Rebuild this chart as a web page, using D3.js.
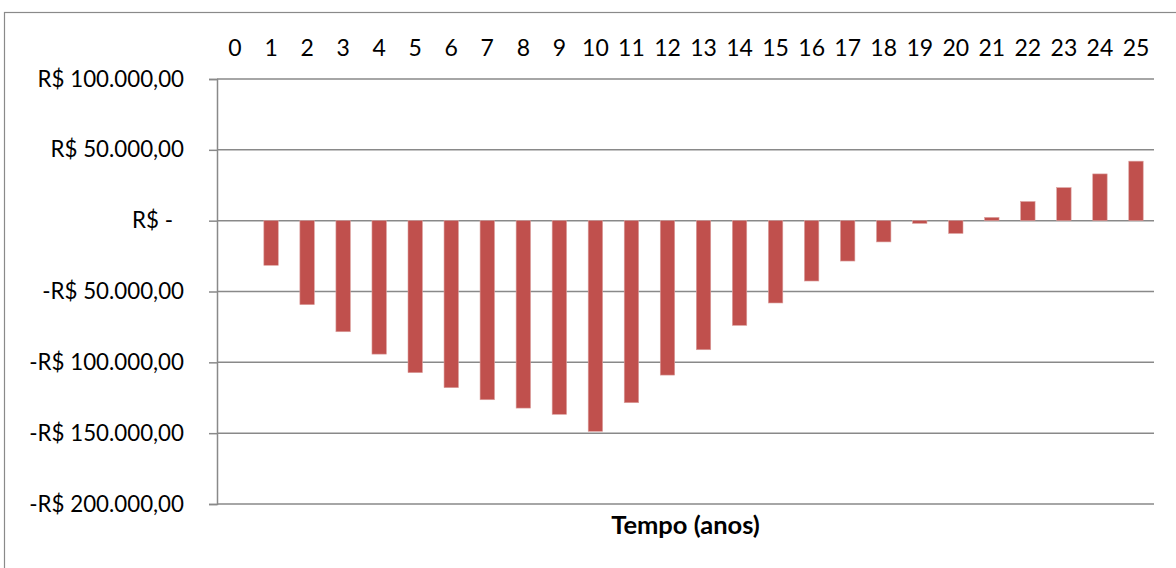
<!DOCTYPE html>
<html>
<head>
<meta charset="utf-8">
<script src="https://cdn.jsdelivr.net/npm/d3@7"></script>
<style>
  html, body { margin: 0; padding: 0; background: #fff; }
  svg { display: block; }
  text { font-family: Lato, "Open Sans", "Noto Sans", sans-serif; fill: #000; }
</style>
</head>
<body>
<svg id="chart" width="1176" height="568"></svg>
<script>
// Fluxo de caixa acumulado por ano
const years = d3.range(0, 26).map(String);
const saldo = [
  0, -31500, -59300, -78400, -94200, -107300, -117900, -126400, -132300, -136700,
  -148700, -128500, -109000, -91100, -73900, -58100, -42600, -28500, -15000, -1900,
  -9000, 2300, 13500, 23300, 33000, 42000
];
const yTicks = [100000, 50000, 0, -50000, -100000, -150000, -200000];
const yTickLabels = [
  "R$ 100.000,00", "R$ 50.000,00", "R$ -", "-R$ 50.000,00",
  "-R$ 100.000,00", "-R$ 150.000,00", "-R$ 200.000,00"
];
const xTitle = "Tempo (anos)";

const svg = d3.select("#chart");
const W = 1176, H = 568;
const plot = { left: 217, right: 1154, top: 79, bottom: 504 };
const gridColor = "#898989";
const barColor = "#C0504D";

// outer chart frame
svg.append("rect")
  .attr("x", 4.5).attr("y", 12.5)
  .attr("width", W + 20).attr("height", H + 20)
  .attr("fill", "none").attr("stroke", "#8a8a8a").attr("stroke-width", 1.2);

const x = d3.scaleBand()
  .domain(years)
  .range([plot.left, plot.right])
  .paddingInner(0.6)
  .paddingOuter(0.3);

const y = d3.scaleLinear()
  .domain([-200000, 100000])
  .range([plot.bottom, plot.top]);

// horizontal gridlines
svg.append("g")
  .selectAll("line")
  .data(yTicks)
  .join("line")
  .attr("x1", plot.left).attr("x2", plot.right)
  .attr("y1", d => y(d)).attr("y2", d => y(d))
  .attr("stroke", gridColor).attr("stroke-width", 1.5);

// vertical axis with outward ticks
const labelOf = new Map(yTicks.map((t, i) => [t, yTickLabels[i]]));
const yAxis = svg.append("g")
  .attr("transform", `translate(${plot.left},0)`)
  .call(d3.axisLeft(y)
    .tickValues(yTicks)
    .tickFormat(d => labelOf.get(d))
    .tickSize(8)
    .tickPadding(25));
yAxis.select(".domain").attr("stroke", gridColor).attr("stroke-width", 1.5);
yAxis.selectAll(".tick line").attr("stroke", gridColor).attr("stroke-width", 1.5);
yAxis.selectAll(".tick text")
  .style("font-size", "22.3px")
  .attr("fill", "#000")
  .attr("dx", d => d === 0 ? -11 : 0);

// bars
svg.append("g")
  .selectAll("rect")
  .data(saldo.map((v, i) => ({ year: years[i], v })))
  .join("rect")
  .attr("x", d => x(d.year))
  .attr("width", x.bandwidth())
  .attr("y", d => y(Math.max(0, d.v)))
  .attr("height", d => Math.abs(y(d.v) - y(0)))
  .attr("fill", barColor)
  .attr("stroke", "#dba09e")
  .attr("stroke-width", 0.6);

// category labels above the plot
const xAxis = svg.append("g")
  .attr("transform", `translate(0,${plot.top})`)
  .call(d3.axisTop(x).tickSize(0).tickPadding(23));
xAxis.select(".domain").remove();
xAxis.selectAll(".tick text")
  .style("font-size", "23px")
  .attr("fill", "#000");

// axis title
svg.append("text")
  .attr("x", (plot.left + plot.right) / 2)
  .attr("y", 527)
  .attr("text-anchor", "middle")
  .attr("dominant-baseline", "middle")
  .style("font-size", "25.5px")
  .style("font-weight", "bold")
  .text(xTitle);
</script>
</body>
</html>
